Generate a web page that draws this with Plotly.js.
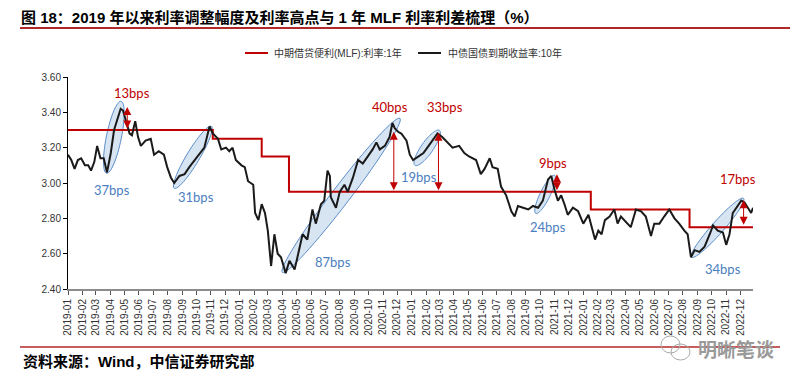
<!DOCTYPE html>
<html><head><meta charset="utf-8">
<script src="https://cdn.plot.ly/plotly-3.0.1.min.js"></script>
<style>html,body{margin:0;padding:0;background:#fff;}#chart{width:798px;height:384px;}</style>
</head><body><div id="chart"></div>
<script>
// ---------------- data ----------------
const yieldName = '中债国债到期收益率:10年';
const mlfName = '中期借贷便利(MLF):利率:1年';

const yieldDates = ['2019-01-01','2019-01-08','2019-01-15','2019-01-22','2019-01-29','2019-02-06','2019-02-13','2019-02-19','2019-02-26','2019-03-04','2019-03-11','2019-03-18','2019-03-25','2019-04-02','2019-04-09','2019-04-16','2019-04-23','2019-04-28','2019-05-03','2019-05-12','2019-05-17','2019-05-24','2019-05-30','2019-06-05','2019-06-15','2019-06-26','2019-07-03','2019-07-13','2019-07-24','2019-07-31','2019-08-08','2019-08-15','2019-08-26','2019-09-06','2019-09-16','2019-09-27','2019-10-07','2019-10-18','2019-10-29','2019-11-05','2019-11-16','2019-11-23','2019-12-03','2019-12-10','2019-12-17','2019-12-24','2020-01-05','2020-01-12','2020-01-19','2020-01-30','2020-02-03','2020-02-10','2020-02-17','2020-02-24','2020-03-01','2020-03-08','2020-03-15','2020-03-22','2020-03-29','2020-04-08','2020-04-16','2020-04-27','2020-05-03','2020-05-14','2020-05-24','2020-06-04','2020-06-11','2020-06-22','2020-06-29','2020-07-06','2020-07-11','2020-07-13','2020-07-24','2020-08-01','2020-08-11','2020-08-18','2020-08-29','2020-09-09','2020-09-19','2020-09-30','2020-10-10','2020-10-18','2020-10-25','2020-11-05','2020-11-15','2020-11-21','2020-11-26','2020-12-03','2020-12-10','2020-12-21','2020-12-28','2021-01-04','2021-01-15','2021-01-26','2021-02-06','2021-02-15','2021-02-25','2021-03-07','2021-03-18','2021-03-29','2021-04-12','2021-04-23','2021-05-03','2021-05-18','2021-05-28','2021-06-05','2021-06-16','2021-06-22','2021-07-03','2021-07-10','2021-07-21','2021-08-01','2021-08-08','2021-08-15','2021-08-26','2021-09-06','2021-09-16','2021-09-27','2021-10-07','2021-10-18','2021-10-25','2021-11-01','2021-11-08','2021-11-15','2021-11-22','2021-11-29','2021-12-10','2021-12-21','2022-01-01','2022-01-12','2022-01-23','2022-01-26','2022-02-02','2022-02-09','2022-02-16','2022-02-26','2022-03-08','2022-03-15','2022-03-22','2022-04-02','2022-04-12','2022-04-23','2022-05-04','2022-05-14','2022-05-25','2022-06-01','2022-06-12','2022-06-22','2022-07-03','2022-07-14','2022-07-24','2022-08-04','2022-08-11','2022-08-18','2022-08-26','2022-09-05','2022-09-16','2022-09-27','2022-10-04','2022-10-14','2022-10-25','2022-11-01','2022-11-08','2022-11-15','2022-11-22','2022-12-03','2022-12-10','2022-12-17','2022-12-24','2022-12-28'];
const yieldValues = [3.16,3.13,3.08,3.13,3.14,3.10,3.10,3.07,3.12,3.21,3.14,3.14,3.06,3.17,3.30,3.36,3.42,3.41,3.36,3.28,3.27,3.35,3.26,3.21,3.24,3.25,3.16,3.18,3.16,3.09,3.03,3.00,3.04,3.05,3.09,3.13,3.16,3.20,3.32,3.28,3.25,3.19,3.20,3.18,3.20,3.13,3.10,3.09,3.01,2.99,2.83,2.79,2.88,2.83,2.73,2.53,2.71,2.60,2.58,2.49,2.56,2.51,2.58,2.71,2.68,2.85,2.77,2.88,2.90,3.07,3.04,2.92,2.86,2.95,2.99,2.95,3.03,3.13,3.11,3.15,3.19,3.23,3.19,3.21,3.26,3.34,3.31,3.29,3.28,3.24,3.16,3.13,3.15,3.17,3.21,3.24,3.28,3.26,3.23,3.20,3.21,3.17,3.15,3.13,3.05,3.08,3.14,3.09,3.08,2.98,2.93,2.84,2.81,2.87,2.86,2.85,2.87,2.86,2.90,3.02,3.04,2.96,2.90,2.93,2.88,2.82,2.86,2.84,2.77,2.82,2.71,2.68,2.73,2.71,2.79,2.81,2.85,2.77,2.81,2.78,2.75,2.85,2.84,2.81,2.70,2.77,2.77,2.81,2.85,2.80,2.77,2.73,2.71,2.58,2.62,2.61,2.64,2.71,2.76,2.73,2.72,2.65,2.71,2.83,2.86,2.90,2.89,2.86,2.83,2.86];

const mlfDates = ['2019-01-01','2019-11-05','2020-02-17','2020-04-15','2022-01-17','2022-08-15','2022-12-28'];
const mlfValues = [3.30,3.25,3.15,2.95,2.85,2.75,2.75];

// labelled moves (text only)
const moveLabels = ['13bps','37bps','31bps','87bps','40bps','33bps','19bps','9bps','24bps','34bps','17bps'];
const moveKinds  = ['spread','rise','rise','rise','spread','spread','rise','spread','rise','rise','spread'];

// ---------------- layout constants ----------------
const W = 798, H = 384;
const M = {l: 68, r: 45, t: 77, b: 95};
const PW = W - M.l - M.r, PH = H - M.t - M.b;
const xRange = ['2019-01-01', '2022-12-28'];
const yRange = [2.4, 3.6];
const RED = '#C00000', BLUE = '#4A7EC0';
const t0 = Date.parse(xRange[0]), t1 = Date.parse(xRange[1]);
function d2px(d){ return M.l + (Date.parse(d) - t0) / (t1 - t0) * PW; }
function v2py(v){ return M.t + PH - (v - yRange[0]) / (yRange[1] - yRange[0]) * PH; }
function pxX(x){ return (x - M.l) / PW; }
function pxY(y){ return (M.t + PH - y) / PH; }

// label positions (date, value) for each move label
const labelPos = [
  ['2019-05-17',3.508],['2019-04-05',2.959],['2019-10-01',2.919],['2020-07-18',2.551],
  ['2020-11-16',3.428],['2021-03-13',3.428],['2021-01-17',3.032],['2021-10-28',3.111],
  ['2021-10-19',2.749],['2022-10-26',2.511],['2022-11-26',3.021]
];
// double arrows: date, top, bottom
const arrows = [
  ['2019-05-07',3.43,3.30],['2020-11-24',3.29,2.95],['2021-02-27',3.285,2.95],
  ['2021-11-06',3.05,2.95],['2022-12-08',2.902,2.755]
];
// ellipses: start(date,val), end(date,val), minor width px
const ellipses = [
  ['2019-03-24',3.055,'2019-04-24',3.462,15],
  ['2019-08-15',2.970,'2019-11-02',3.321,13],
  ['2020-04-01',2.494,'2020-12-07',3.366,18],
  ['2021-01-08',3.100,'2021-03-01',3.298,12],
  ['2021-09-22',2.828,'2021-11-01',3.043,10],
  ['2022-08-19',2.579,'2022-12-08',2.913,12]
];

function ellipsePath(e){
  const x1 = d2px(e[0]), y1 = v2py(e[1]), x2 = d2px(e[2]), y2 = v2py(e[3]);
  const cx = (x1+x2)/2, cy = (y1+y2)/2;
  const dx = x2-x1, dy = y2-y1, len = Math.hypot(dx,dy);
  const a = len/2, b = e[4]/2, ux = dx/len, uy = dy/len, vx = -uy, vy = ux;
  let p = '';
  for(let i=0;i<=64;i++){
    const th = i/64*2*Math.PI;
    const x = cx + a*Math.cos(th)*ux + b*Math.sin(th)*vx;
    const y = cy + a*Math.cos(th)*uy + b*Math.sin(th)*vy;
    p += (i===0?'M':'L') + pxX(x).toFixed(5) + ',' + pxY(y).toFixed(5);
  }
  return p + 'Z';
}

const shapes = [];
ellipses.forEach(e => shapes.push({type:'path', xref:'paper', yref:'paper', layer:'below',
  path: ellipsePath(e), fillcolor:'rgba(205,222,240,0.8)', line:{color:'#5B8CC8', width:1}}));
// title underline and footer line
shapes.push({type:'line', xref:'paper', yref:'paper', x0:pxX(20), x1:pxX(790), y0:pxY(28), y1:pxY(28), line:{color:'#B0282A', width:2}});
shapes.push({type:'line', xref:'paper', yref:'paper', x0:pxX(20), x1:pxX(780), y0:pxY(347), y1:pxY(347), line:{color:'#B0282A', width:1.5}});
// legend samples
shapes.push({type:'line', xref:'paper', yref:'paper', x0:pxX(245), x1:pxX(268), y0:pxY(53), y1:pxY(53), line:{color:RED, width:2}});
shapes.push({type:'line', xref:'paper', yref:'paper', x0:pxX(418), x1:pxX(441), y0:pxY(53), y1:pxY(53), line:{color:'#1a1a1a', width:2}});
// watermark icon
shapes.push({type:'circle', xref:'paper', yref:'paper', x0:pxX(661), x1:pxX(680), y0:pxY(336), y1:pxY(353), line:{color:'#aaa', width:1}});
shapes.push({type:'circle', xref:'paper', yref:'paper', x0:pxX(671), x1:pxX(690), y0:pxY(344), y1:pxY(360), line:{color:'#aaa', width:1}});

const annotations = [];
moveLabels.forEach((t,i) => annotations.push({xref:'x', yref:'y', x:labelPos[i][0], y:labelPos[i][1], text:t, showarrow:false,
  font:{family:'Lato, Noto Sans, sans-serif', size:13, color: moveKinds[i]==='spread'?RED:BLUE}}));
arrows.forEach(a => annotations.push({xref:'x', yref:'y', axref:'x', ayref:'y', x:a[0], y:a[1], ax:a[0], ay:a[2], text:'',
  showarrow:true, arrowside:'end+start', arrowhead:2, startarrowhead:2, arrowsize:1.6, startarrowsize:1.6, arrowwidth:1, arrowcolor:RED}));
// legend texts
annotations.push({xref:'paper', yref:'paper', x:pxX(272), y:pxY(53), xanchor:'left', yanchor:'middle', text:mlfName, showarrow:false, font:{size:10, color:'#333'}});
annotations.push({xref:'paper', yref:'paper', x:pxX(446), y:pxY(53), xanchor:'left', yanchor:'middle', text:yieldName, showarrow:false, font:{size:10, color:'#333'}});
// footer
annotations.push({xref:'paper', yref:'paper', x:pxX(21), y:pxY(361), xanchor:'left', yanchor:'middle', text:'资料来源：Wind，中信证券研究部', showarrow:false,
  font:{size:15, color:'#000', weight:'bold'}});
annotations.push({xref:'paper', yref:'paper', x:pxX(696), y:pxY(350), xanchor:'left', yanchor:'middle', text:'明晰笔谈', showarrow:false,
  font:{size:19, color:'#9a9a9a', weight:'bold'}});

const traces = [
  {type:'scatter', mode:'lines', name:mlfName, x:mlfDates, y:mlfValues, line:{color:RED, width:2, shape:'hv'}, hoverinfo:'x+y'},
  {type:'scatter', mode:'lines', name:yieldName, x:yieldDates, y:yieldValues, line:{color:'#1a1a1a', width:2}, hoverinfo:'x+y'}
];

const layout = {
  width: W, height: H, margin: M,
  paper_bgcolor:'#fff', plot_bgcolor:'rgba(0,0,0,0)',
  font:{family:'Liberation Sans, Arial, Noto Sans CJK SC, sans-serif', size:10, color:'#333'},
  showlegend:false,
  title:{text:'图 18：2019 年以来利率调整幅度及利率高点与 1 年 MLF 利率利差梳理（%）', xref:'container', yref:'container',
    x:21/W, xanchor:'left', y:1-18/H, yanchor:'middle', font:{size:15, color:'#000', weight:'bold'}},
  xaxis:{type:'date', range:xRange, tick0:'2019-01-01', dtick:'M1', tickformat:'%Y-%m', tickangle:-90,
    ticks:'outside', ticklen:4, tickcolor:'#555', showline:true, linecolor:'#8c8c8c', linewidth:2,
    showgrid:false, zeroline:false, tickfont:{size:10, color:'#333'}},
  yaxis:{range:yRange, dtick:0.2, tick0:2.4, tickformat:'.2f', ticks:'outside', ticklen:4, tickcolor:'#000',
    showline:true, linecolor:'#000', linewidth:1, showgrid:false, zeroline:false, tickfont:{size:10, color:'#333'}},
  shapes: shapes, annotations: annotations
};

Plotly.newPlot('chart', traces, layout, {displayModeBar:false, staticPlot:true});
</script>
</body></html>
